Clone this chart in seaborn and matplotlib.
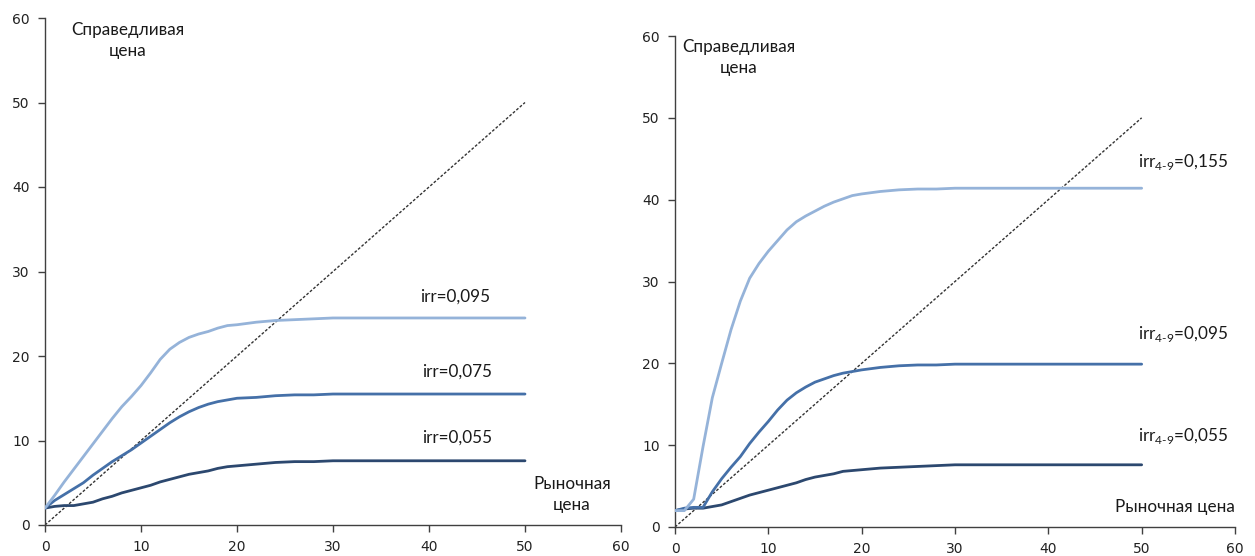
import matplotlib
matplotlib.use("Agg")
import matplotlib.pyplot as plt
import seaborn as sns

# ---------------- data ----------------
x_main = [0, 1, 2, 3, 4, 5, 6, 7, 8, 9, 10, 11, 12, 13, 14, 15, 16, 17, 18, 19, 20,
          22, 24, 26, 28, 30, 35, 40, 45, 50]

# left panel
left_irr_095 = [2.0, 3.5, 5.1, 6.6, 8.1, 9.6, 11.1, 12.6, 14.0, 15.2, 16.5, 18.0, 19.6, 20.8,
                21.6, 22.2, 22.6, 22.9, 23.3, 23.6, 23.7, 24.0, 24.2, 24.3, 24.4, 24.5,
                24.5, 24.5, 24.5, 24.5]
left_irr_075 = [2.0, 2.9, 3.6, 4.3, 5.0, 5.9, 6.7, 7.5, 8.2, 8.9, 9.7, 10.5, 11.3, 12.1, 12.8,
                13.4, 13.9, 14.3, 14.6, 14.8, 15.0, 15.1, 15.3, 15.4, 15.4, 15.5,
                15.5, 15.5, 15.5, 15.5]
left_irr_055 = [2.0, 2.2, 2.3, 2.3, 2.5, 2.7, 3.1, 3.4, 3.8, 4.1, 4.4, 4.7, 5.1, 5.4, 5.7,
                6.0, 6.2, 6.4, 6.7, 6.9, 7.0, 7.2, 7.4, 7.5, 7.5, 7.6, 7.6, 7.6, 7.6, 7.6]

# right panel
right_irr_155 = [2.0, 2.0, 3.4, 9.8, 15.8, 20.0, 24.1, 27.6, 30.4, 32.2, 33.7, 35.0, 36.3,
                 37.3, 38.0, 38.6, 39.2, 39.7, 40.1, 40.5, 40.7, 41.0, 41.2, 41.3, 41.3,
                 41.4, 41.4, 41.4, 41.4, 41.4]
right_irr_095 = [2.0, 2.3, 2.4, 2.4, 4.3, 5.9, 7.3, 8.6, 10.2, 11.6, 12.9, 14.3, 15.5, 16.4,
                 17.1, 17.7, 18.1, 18.5, 18.8, 19.0, 19.2, 19.5, 19.7, 19.8, 19.8, 19.9,
                 19.9, 19.9, 19.9, 19.9]
right_irr_055 = [2.0, 2.2, 2.3, 2.3, 2.5, 2.7, 3.1, 3.5, 3.9, 4.2, 4.5, 4.8, 5.1, 5.4, 5.8,
                 6.1, 6.3, 6.5, 6.8, 6.9, 7.0, 7.2, 7.3, 7.4, 7.5, 7.6, 7.6, 7.6, 7.6, 7.6]

diag_x = [0, 50]
diag_y = [0, 50]

ticks = [0, 10, 20, 30, 40, 50, 60]

left_labels = ["irr=0,095", "irr=0,075", "irr=0,055"]
right_labels = [r"irr$_{\mathregular{4\text{-}9}}$=0,155",
                r"irr$_{\mathregular{4\text{-}9}}$=0,095",
                r"irr$_{\mathregular{4\text{-}9}}$=0,055"]
y_title = "Справедливая\nцена"
x_title_left = "Рыночная\nцена"
x_title_right = "Рыночная цена"

# ---------------- style ----------------
sns.set_style("white")
plt.rcParams["font.family"] = ["Lato", "DejaVu Sans"]
plt.rcParams["mathtext.fontset"] = "custom"
plt.rcParams["mathtext.rm"] = "Lato"

c_light = "#95B3D9"
c_mid = "#4570A8"
c_dark = "#2C486F"
lw = 2.0

fig = plt.figure(figsize=(12.55, 5.56), dpi=100)
axL = fig.add_axes([45 / 1255, 31 / 556, 576 / 1255, 507 / 556])
axR = fig.add_axes([675 / 1255, 29 / 556, 560 / 1255, 491 / 556])


def style_axis(ax):
    ax.set_xlim(0, 60)
    ax.set_ylim(0, 60)
    ax.set_xticks(ticks)
    ax.set_yticks(ticks)
    for s in ["top", "right"]:
        ax.spines[s].set_visible(False)
    for s in ["left", "bottom"]:
        ax.spines[s].set_color("#404040")
        ax.spines[s].set_linewidth(1.0)
    ax.tick_params(axis="both", direction="out", length=5, width=1.0, color="#404040",
                   labelsize=10, labelcolor="#222222", bottom=True, left=True, pad=6)
    for lab in ax.get_xticklabels() + ax.get_yticklabels():
        lab.set_fontfamily("DejaVu Sans")
    ax.set_xlabel("")
    ax.set_ylabel("")
    ax.set_facecolor("white")


def diag(ax):
    sns.lineplot(x=diag_x, y=diag_y, ax=ax, color="#333333", linewidth=1.0,
                 linestyle=(0, (2.0, 1.3)), zorder=2)


# left
diag(axL)
sns.lineplot(x=x_main, y=left_irr_055, ax=axL, color=c_dark, linewidth=lw, zorder=3)
sns.lineplot(x=x_main, y=left_irr_075, ax=axL, color=c_mid, linewidth=lw, zorder=3)
sns.lineplot(x=x_main, y=left_irr_095, ax=axL, color=c_light, linewidth=lw, zorder=3)
style_axis(axL)

tk = dict(fontsize=12.3, color="#1a1a1a", ha="center", va="center")
axL.text(8.6, 57.3, y_title, linespacing=1.4, **tk)
axL.text(42.7, 27.0, left_labels[0], **tk)
axL.text(42.9, 18.2, left_labels[1], **tk)
axL.text(42.9, 10.3, left_labels[2], **tk)
axL.text(54.9, 3.6, x_title_left, linespacing=1.4, **tk)

# right
diag(axR)
sns.lineplot(x=x_main, y=right_irr_055, ax=axR, color=c_dark, linewidth=lw, zorder=3)
sns.lineplot(x=x_main, y=right_irr_095, ax=axR, color=c_mid, linewidth=lw, zorder=3)
sns.lineplot(x=x_main, y=right_irr_155, ax=axR, color=c_light, linewidth=lw, zorder=4)
style_axis(axR)

axR.text(6.8, 57.4, y_title, linespacing=1.4, **tk)
axR.text(54.4, 44.6, right_labels[0], **tk)
axR.text(54.4, 23.6, right_labels[1], **tk)
axR.text(54.4, 11.1, right_labels[2], **tk)
axR.text(53.6, 2.4, x_title_right, **tk)

fig.savefig("out.png", dpi=100, facecolor="white")
